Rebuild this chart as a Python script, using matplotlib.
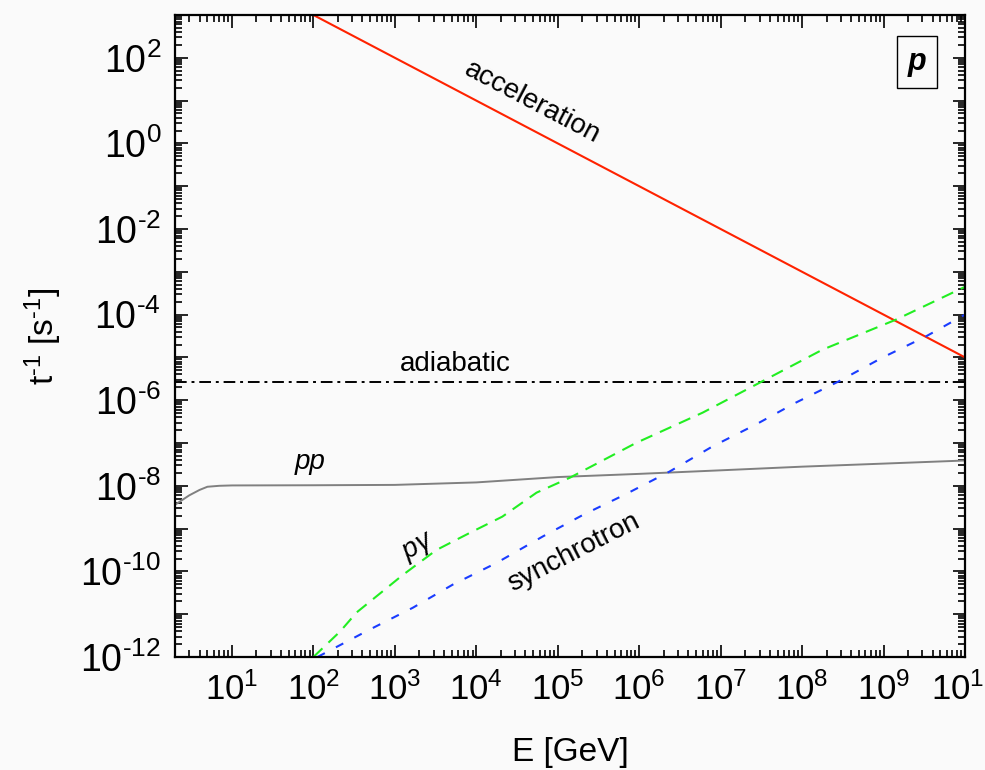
import math
import matplotlib
matplotlib.use('Agg')
import matplotlib.pyplot as plt
from matplotlib.ticker import LogLocator, FixedLocator, NullFormatter

plt.rcParams['font.family'] = ['Liberation Sans', 'DejaVu Sans']
plt.rcParams['mathtext.fontset'] = 'custom'
plt.rcParams['mathtext.rm'] = 'Liberation Sans'
plt.rcParams['mathtext.it'] = 'Liberation Sans:italic'
plt.rcParams['mathtext.default'] = 'regular'

# ___DATA___ #
ACC_E = [1e2, 1e10]
ACC_RATE = [1e3, 1e-5]

ADI_E = [2, 1e10]
ADI_RATE = [2.6e-6, 2.6e-6]

PP_E = [2, 3, 4, 5, 7, 10, 1e2, 1e3, 1e4, 1e5, 1e6, 1e7, 1e8, 1e9, 1e10]
PP_RATE = [3.6e-9, 6.0e-9, 8.0e-9, 9.5e-9, 1.0e-8, 1.02e-8, 1.03e-8, 1.05e-8,
           1.2e-8, 1.6e-8, 1.9e-8, 2.3e-8, 2.8e-8, 3.3e-8, 3.9e-8]

PG_E = [10**2.0, 10**2.33, 10**2.53, 10**3.10, 10**3.51, 10**3.92, 10**4.32,
        10**4.74, 10**5.15, 10**5.96, 10**6.78, 10**7.51, 10**8.25, 10**9.15, 1e10]
PG_RATE = [10**-12.0, 10**-11.40, 10**-10.96, 10**-10.08, 10**-9.50, 10**-9.10,
           10**-8.72, 10**-8.16, 10**-7.81, 10**-7.0, 10**-6.29, 10**-5.56,
           10**-4.82, 10**-4.12, 10**-3.35]

SYN_E = [10**2.05, 10**2.41, 10**2.69, 10**3.22, 10**3.71, 10**4.25, 10**4.82,
         10**5.31, 10**5.82, 10**6.37, 10**6.90, 10**7.43, 10**7.92, 10**8.45,
         10**8.98, 10**9.52, 1e10]
SYN_RATE = [10**-12.0, 10**-11.64, 10**-11.36, 10**-10.85, 10**-10.31, 10**-9.80,
            10**-9.18, 10**-8.68, 10**-8.21, 10**-7.67, 10**-7.08, 10**-6.57,
            10**-6.06, 10**-5.56, 10**-5.01, 10**-4.51, 10**-4.0]

BG = '#fafafa'


def pow_label(v, pos, every=1):
    k = round(math.log10(v))
    if k % every:
        return ''
    s = str(k).replace('-', r'\text{-}')
    return r'$10^{%s}$' % s


fig = plt.figure(figsize=(9.85, 7.7), dpi=100, facecolor=BG)
ax = fig.add_axes([175/985, 1 - 657/770, 790/985, 642/770])
ax.set_facecolor(BG)

ax.plot(ACC_E, ACC_RATE, color='#ff2200', lw=1.5)
ax.plot(ADI_E, ADI_RATE, color='black', lw=1.4, dashes=(6, 2.5, 1.5, 2.5))
ax.plot(PP_E, PP_RATE, color='#808080', lw=1.4)
ax.plot(PG_E, PG_RATE, color='#22ee22', lw=1.5, dashes=(6, 4))
ax.plot(SYN_E, SYN_RATE, color='#1a3cff', lw=1.5, dashes=(4, 6))

ax.set_xscale('log')
ax.set_yscale('log')
ax.set_xlim(2, 1e10)
ax.set_ylim(1e-12, 1e3)

ax.xaxis.set_major_locator(LogLocator(base=10, numticks=20))
ax.xaxis.set_minor_locator(LogLocator(base=10, subs=range(2, 10), numticks=100))
ax.xaxis.set_minor_formatter(NullFormatter())
ax.xaxis.set_major_formatter(lambda v, pos: pow_label(v, pos))

ax.yaxis.set_major_locator(FixedLocator([10.0**k for k in range(-12, 4)]))
ax.yaxis.set_minor_locator(LogLocator(base=10, subs=range(2, 10), numticks=100))
ax.yaxis.set_minor_formatter(NullFormatter())
ax.yaxis.set_major_formatter(lambda v, pos: pow_label(v, pos, every=2))

ax.tick_params(which='both', direction='in', top=True, right=True,
               width=1.2, colors='black')
ax.tick_params(which='major', length=9)
ax.tick_params(which='minor', length=5)
ax.tick_params(axis='x', labelsize=25, pad=11)
ax.tick_params(axis='y', labelsize=27, pad=10)
for sp in ax.spines.values():
    sp.set_linewidth(1.6)

ax.set_xlabel('E [GeV]', fontsize=24, labelpad=22)
ax.set_ylabel(r't$^{\text{-}1}$ [s$^{\text{-}1}$]', fontsize=24, labelpad=12)

ax.text(4.9e4, 8.9, 'acceleration', fontsize=20, rotation=-27.7,
        ha='center', va='center', rotation_mode='anchor')
ax.text(5.5e3, 7e-6, 'adiabatic', fontsize=20, ha='center', va='center')
ax.text(91, 3.6e-8, 'pp', fontsize=20, style='italic', ha='center', va='center')
ax.text(2e3, 3.7e-10, r'p$\gamma$', fontsize=20, style='italic', rotation=30,
        ha='center', va='center', rotation_mode='anchor')
ax.text(1.55e5, 2.7e-10, 'synchrotron', fontsize=20, rotation=27,
        ha='center', va='center', rotation_mode='anchor')
ax.text(0.939, 0.927, 'p', transform=ax.transAxes, fontsize=22,
        style='italic', fontweight='bold', ha='center', va='center',
        bbox=dict(boxstyle='square,pad=0.35', fc=BG, ec='black', lw=1.0))

fig.savefig('out.png', dpi=100, facecolor=BG)
